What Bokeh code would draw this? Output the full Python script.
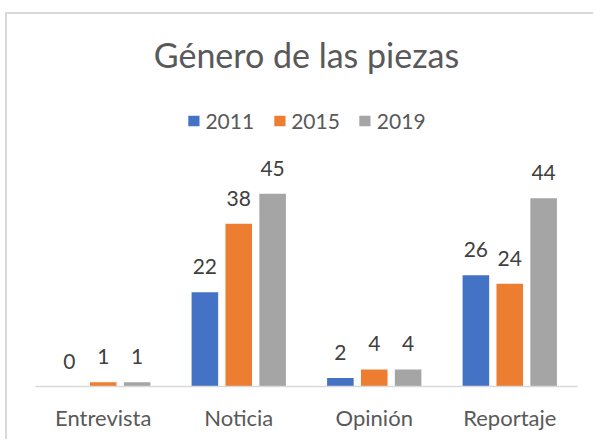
from bokeh.plotting import figure
from bokeh.models import ColumnDataSource, FactorRange, Range1d, LabelSet, Legend, LegendItem
from bokeh.core.properties import value
from bokeh.transform import dodge
from bokeh.embed import file_html
from bokeh.resources import INLINE

categories = ["Entrevista", "Noticia", "Opinión", "Reportaje"]
years = ["2011", "2015", "2019"]
v2011 = [0, 22, 2, 26]
v2015 = [1, 38, 4, 24]
v2019 = [1, 45, 4, 44]
colors = ["#4472C4", "#ED7D31", "#A5A5A5"]
title_text = "Género de las piezas"

FONT = "Lato"
src = ColumnDataSource(data=dict(
    cat=categories,
    y2011=v2011, y2015=v2015, y2019=v2019,
    t2011=[str(v) for v in v2011],
    t2015=[str(v) for v in v2015],
    t2019=[str(v) for v in v2019],
))

p = figure(x_range=FactorRange(*categories, range_padding=0), y_range=Range1d(0, 86.9),
           width=588, height=427, output_backend="svg", toolbar_location=None,
           min_border_left=28, min_border_right=18, min_border_top=0, min_border_bottom=55)
p.styles = {"margin-top": "12px", "margin-left": "5px",
            "border-top": "2px solid #d9d9d9", "border-left": "2px solid #d9d9d9"}
p.outline_line_color = None
p.xgrid.grid_line_color = None
p.ygrid.grid_line_color = None
p.yaxis.visible = False
p.background_fill_color = "white"
p.border_fill_color = "white"

offsets = [-0.25, 0.0, 0.25]
items = []
for yr, off, col in zip(years, offsets, colors):
    r = p.vbar(x=dodge("cat", off, range=p.x_range), top="y" + yr, width=0.196, source=src,
               fill_color=col, line_color=None)
    items.append(LegendItem(label=yr, renderers=[r]))
    lbl = LabelSet(x=dodge("cat", off, range=p.x_range), y="y" + yr, text="t" + yr, source=src,
                   text_align="center", text_baseline="alphabetic", y_offset=18,
                   text_font=value(FONT), text_font_size=value("21px"), text_color=value("#404040"))
    p.add_layout(lbl)

legend = Legend(items=items, orientation="horizontal", location="top_center",
                margin=94, padding=0, spacing=18, label_standoff=5,
                glyph_width=14, glyph_height=13,
                label_text_font=FONT, label_text_font_size="21px", label_text_color="#595959",
                border_line_color=None, background_fill_alpha=0)
p.add_layout(legend)

title_src = ColumnDataSource(data=dict(x=[2.0], y=[74.4], text=[title_text]))
p.add_layout(LabelSet(x="x", y="y", text="text", source=title_src, text_align="center",
                      text_baseline="alphabetic", text_font=value(FONT),
                      text_font_size=value("34px"), text_color=value("#595959")))

ax = p.xaxis[0]
ax.axis_line_color = "#d9d9d9"
ax.axis_line_width = 1.5
ax.major_tick_line_color = None
ax.minor_tick_line_color = None
ax.major_label_standoff = 11
ax.major_label_text_font = FONT
ax.major_label_text_font_size = "22px"
ax.major_label_text_color = "#595959"

open("out.html", "w").write(file_html(p, INLINE))
